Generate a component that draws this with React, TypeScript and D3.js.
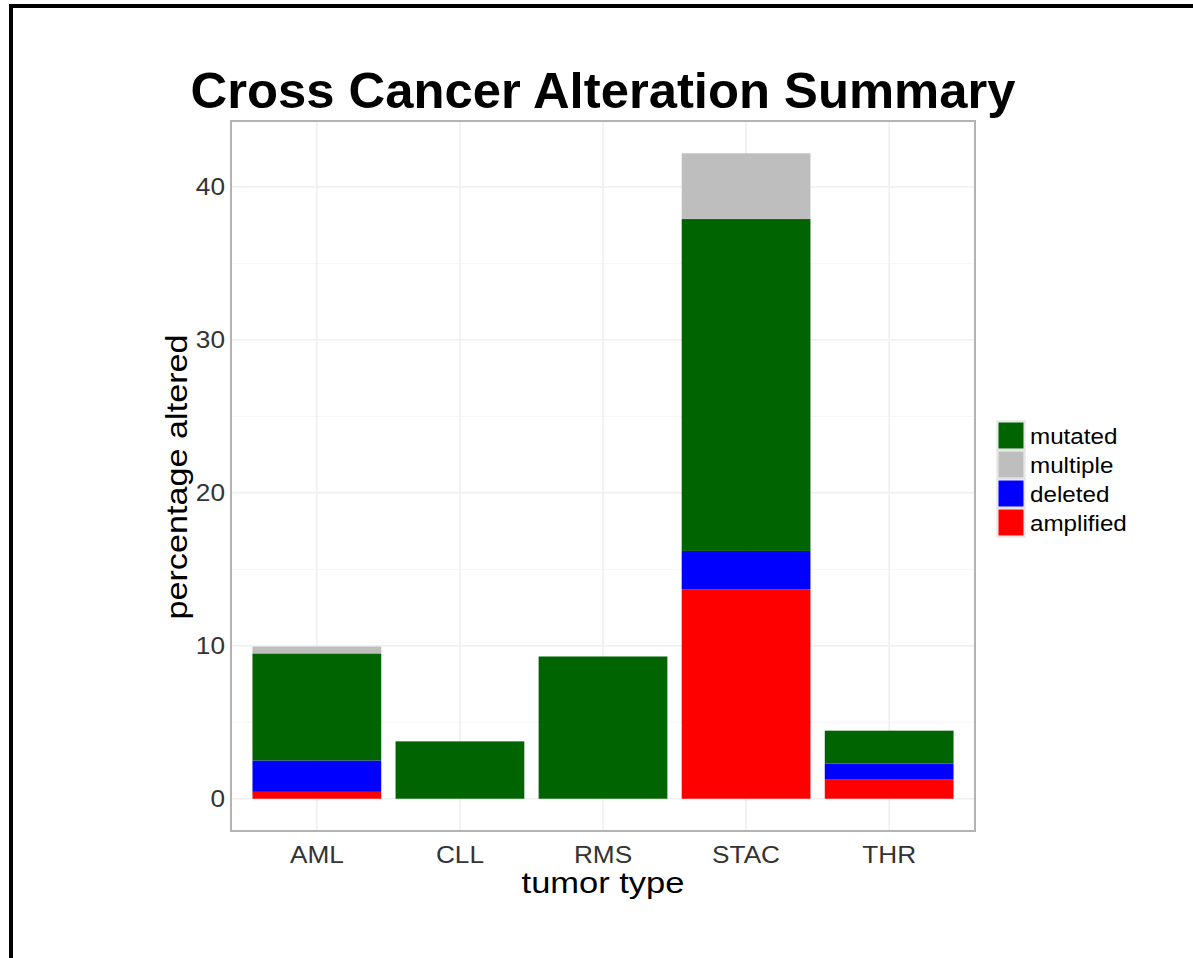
import React from "react";
import * as d3 from "d3";

const categories = ["AML", "CLL", "RMS", "STAC", "THR"];
const seriesKeys = ["amplified", "deleted", "mutated", "multiple"];
const amplified = [0.45, 0, 0, 13.7, 1.25];
const deleted = [2.05, 0, 0, 2.5, 1.05];
const mutated = [7.0, 3.75, 9.3, 21.7, 2.15];
const multiple = [0.45, 0, 0, 4.3, 0];
const yTicks = [0, 10, 20, 30, 40];
const yMinor = [5, 15, 25, 35];
const legendOrder = ["mutated", "multiple", "deleted", "amplified"];
const colors: Record<string, string> = {
  mutated: "#006400",
  multiple: "#BEBEBE",
  deleted: "#0000FF",
  amplified: "#FF0000",
};

export default function App() {
  const W = 1193, H = 958;
  const px0 = 231, px1 = 975, py0 = 121, py1 = 831;
  const rows = categories.map((c, i) => ({
    cat: c,
    amplified: amplified[i],
    deleted: deleted[i],
    mutated: mutated[i],
    multiple: multiple[i],
  }));
  const stacked = d3.stack<any>().keys(seriesKeys)(rows);
  const maxY = d3.max(stacked[stacked.length - 1], (d) => d[1]) as number;
  const pad = maxY * 0.05;
  const y = d3.scaleLinear().domain([-pad, maxY + pad]).range([py1, py0]);
  const x = d3.scaleBand().domain(categories).range([px0, px1]).paddingInner(0.1).paddingOuter(0.15);
  const centers = categories.map((c) => (x(c) as number) + x.bandwidth() / 2);
  const font = "'Liberation Sans', Arial, sans-serif";
  const sx = 1.14;

  return (
    <svg width={W} height={H} style={{ position: "absolute", left: 0, top: 0, background: "#fff" }}>
      <rect x={0} y={0} width={W} height={H} fill="#fff" />
      <path d={`M11 ${H} V6 H${W}`} fill="none" stroke="#000" strokeWidth={4} />
      <text x={603} y={108} textAnchor="middle" fontFamily={font} fontWeight="bold" fontSize={50} textLength={825} lengthAdjust="spacingAndGlyphs" fill="#000">
        Cross Cancer Alteration Summary
      </text>
      <rect x={px0} y={py0} width={px1 - px0} height={py1 - py0} fill="#fff" />
      {yMinor.map((t) => (
        <line key={"mi" + t} x1={px0} x2={px1} y1={y(t)} y2={y(t)} stroke="#F5F5F5" strokeWidth={1} />
      ))}
      {yTicks.map((t) => (
        <line key={"ma" + t} x1={px0} x2={px1} y1={y(t)} y2={y(t)} stroke="#EFEFEF" strokeWidth={1.5} />
      ))}
      {centers.map((cx, i) => (
        <line key={"v" + i} x1={cx} x2={cx} y1={py0} y2={py1} stroke="#EFEFEF" strokeWidth={1.5} />
      ))}
      {stacked.map((s) =>
        s.map((d, i) =>
          d[1] - d[0] > 0 ? (
            <rect
              key={s.key + i}
              x={x(categories[i]) as number}
              width={x.bandwidth()}
              y={y(d[1])}
              height={y(d[0]) - y(d[1])}
              fill={colors[s.key]}
            />
          ) : null
        )
      )}
      <rect x={px0} y={py0} width={px1 - px0} height={py1 - py0} fill="none" stroke="#B3B3B3" strokeWidth={2} />
      {yTicks.map((t) => (
        <text key={"yt" + t} transform={`translate(225,${y(t) + 8}) scale(${sx},1)`} textAnchor="end" fontFamily={font} fontSize={23} fill="#333">
          {t}
        </text>
      ))}
      {categories.map((c, i) => (
        <text key={"xt" + c} transform={`translate(${centers[i]},863) scale(${sx},1)`} textAnchor="middle" fontFamily={font} fontSize={23} fill="#333">
          {c}
        </text>
      ))}
      <text transform={`translate(603,893) scale(1.15,1)`} textAnchor="middle" fontFamily={font} fontSize={30} fill="#000">
        tumor type
      </text>
      <text transform={`translate(187,477) rotate(-90) scale(1.14,1)`} textAnchor="middle" fontFamily={font} fontSize={30} fill="#000">
        percentage altered
      </text>
      {legendOrder.map((k, i) => (
        <g key={"lg" + k}>
          <rect x={997} y={421 + i * 29} width={28} height={29} fill="#F2F2F2" stroke="#DDDDDD" strokeWidth={1} />
          <rect x={998.5} y={422.5 + i * 29} width={25} height={26} fill={colors[k]} />
          <text transform={`translate(1030,${444 + i * 29}) scale(1.1,1)`} fontFamily={font} fontSize={22} fill="#000">
            {k}
          </text>
        </g>
      ))}
    </svg>
  );
}
